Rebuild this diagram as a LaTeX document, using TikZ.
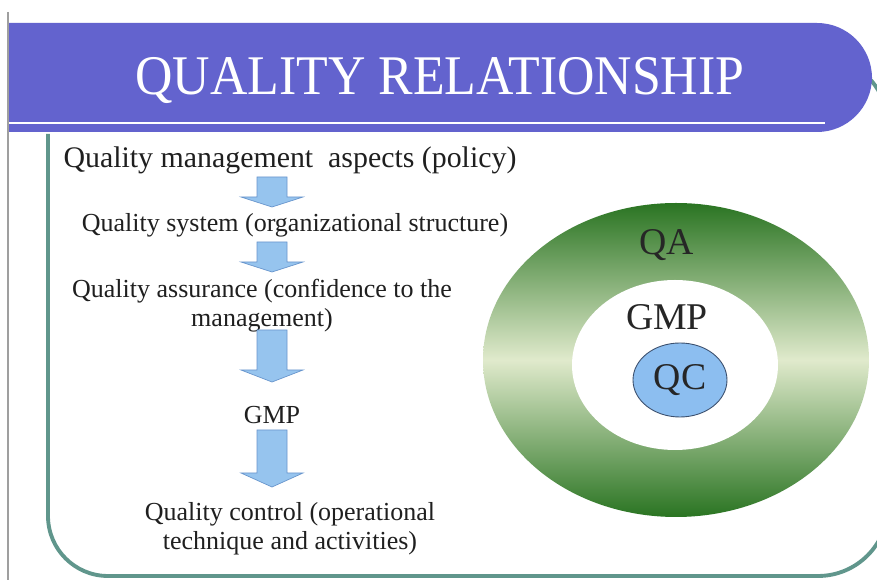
\documentclass[tikz,border=0pt]{standalone}
\usepackage{fontspec}
\setmainfont{Liberation Serif}
\definecolor{banner}{RGB}{99,99,206}
\definecolor{framecol}{RGB}{96,150,140}
\definecolor{arrowfill}{RGB}{150,196,238}
\definecolor{arrowedge}{RGB}{105,150,205}
\definecolor{qadark}{RGB}{42,116,34}
\definecolor{qalight}{RGB}{224,234,204}
\definecolor{qcfill}{RGB}{140,190,240}
\definecolor{qcedge}{RGB}{60,80,110}
\newcommand\blockarr[4]{%
  \filldraw[fill=arrowfill, draw=arrowedge, line width=0.4pt]
    (#1-15,#2) -- (#1+15,#2) -- (#1+15,#3) -- (#1+31,#3) -- (#1,#4)
    -- (#1-31,#3) -- (#1-15,#3) -- cycle;}
\begin{document}
\begin{tikzpicture}[x=0.02cm,y=-0.02cm,
  titletext/.style={font=\fontsize{29.5}{34}\selectfont, text=white, inner sep=0pt, yscale=1.08},
  bigbody/.style={font=\fontsize{17}{20}\selectfont, inner sep=0pt, text=black!88},
  body/.style={font=\fontsize{14.8}{16.5}\selectfont, inner sep=0pt, align=center, text=black!88},
  ringtext/.style={font=\fontsize{21.5}{24}\selectfont, inner sep=0pt, text=black!85}]
\useasboundingbox (0,0) rectangle (877,580);
\fill[white] (0,0) rectangle (877,580);
% left thin border
\draw[gray!75, line width=0.8pt] (8,12) -- (8,580);
% content frame
\draw[framecol, line width=2.2pt] (48,134) [rounded corners=1.2cm] -- (48,576)
  [rounded corners=1.4cm] -- (888,576) -- (888,56) -- (700,56);
% banner
\fill[banner] (9,23) [rounded corners=1.1cm] -- (872,23) -- (872,132) [sharp corners] -- (9,132) -- cycle;
\draw[white, line width=1.6pt] (9,123) -- (825,123);
\node[titletext, anchor=base] (title) at (440,95) {QUALITY RELATIONSHIP};
% left flow
\node[bigbody] (t1) at (290,160) {Quality management~ aspects (policy)};
\node[body] (t2) at (295,225) {Quality system (organizational structure)};
\node[body] (t3) at (262,306) {Quality assurance (confidence to the\\management)};
\node[body] (t4) at (272,415) {GMP};
\node[body] (t5) at (290,529) {Quality control (operational\\technique and activities)};
\blockarr{272}{177}{197}{207}
\blockarr{272}{242}{262}{272}
\blockarr{272}{330}{370}{382}
\blockarr{272}{430}{473}{487}
% rings
\shade[top color=qadark, bottom color=qadark, middle color=qalight] (676,360) ellipse [x radius=193, y radius=157];
\fill[white] (675,365) ellipse [x radius=103, y radius=85];
\filldraw[fill=qcfill, draw=qcedge, line width=0.5pt] (680,380) ellipse [x radius=47, y radius=37];
\node[ringtext] (qa) at (667,245) {QA};
\node[ringtext] (gmp) at (667,317) {GMP};
\node[ringtext] (qc) at (680,380) {QC};
\end{tikzpicture}
\end{document}
